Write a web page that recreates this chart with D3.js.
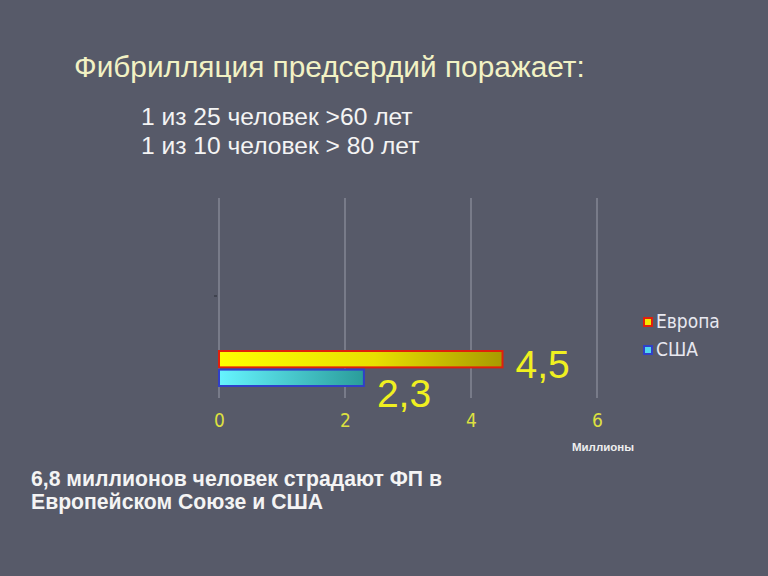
<!DOCTYPE html>
<html><head><meta charset="utf-8">
<script src="https://cdn.jsdelivr.net/npm/d3@7"></script>
<style>html,body{margin:0;padding:0;background:#575a69;}svg{display:block;}</style>
</head><body>
<script>
const series = ["Европа", "США"];
const values = [4.5, 2.3];
const valueLabels = ["4,5", "2,3"];
const xTicks = [0, 2, 4, 6];
const titleText = "Фибрилляция предсердий поражает:";
const subLines = ["1 из 25 человек >60 лет", "1 из 10 человек > 80 лет"];
const bottomLines = ["6,8 миллионов человек страдают ФП в", "Европейском Союзе и США"];
const axisTitle = "Миллионы";

const W = 768, H = 576;
const svg = d3.select("body").append("svg").attr("width", W).attr("height", H);
svg.append("rect").attr("width", W).attr("height", H).attr("fill", "#575a69");

const defs = svg.append("defs");
const gradEu = defs.append("linearGradient").attr("id", "gEu");
gradEu.append("stop").attr("offset", "0%").attr("stop-color", "#ffff00");
gradEu.append("stop").attr("offset", "55%").attr("stop-color", "#e8e000");
gradEu.append("stop").attr("offset", "100%").attr("stop-color", "#a89a00");
const gradUs = defs.append("linearGradient").attr("id", "gUs");
gradUs.append("stop").attr("offset", "0%").attr("stop-color", "#66f4ff");
gradUs.append("stop").attr("offset", "100%").attr("stop-color", "#2a9c9a");
const fills = ["url(#gEu)", "url(#gUs)"];
const strokes = ["#e0200c", "#3040c8"];
const swFills = ["#f4e800", "#50d8f0"];

// title texts
svg.append("text").attr("x", 74).attr("y", 77)
  .attr("font-family", "Liberation Sans, Arial, sans-serif").attr("font-size", 29.8)
  .attr("fill", "#f2f2c4").text(titleText);
svg.selectAll("text.sub").data(subLines).join("text").attr("class", "sub")
  .attr("x", 141).attr("y", (d, i) => 125 + i * 29)
  .attr("font-family", "Liberation Sans, Arial, sans-serif").attr("font-size", 24.6)
  .attr("fill", "#f4f4f4").text(d => d);
svg.selectAll("text.bot").data(bottomLines).join("text").attr("class", "bot")
  .attr("x", 31).attr("y", (d, i) => 486 + i * 23)
  .attr("font-family", "Liberation Sans, Arial, sans-serif").attr("font-size", 21.2)
  .attr("font-weight", "bold").attr("fill", "#f4f4f4").text(d => d);

// scales
const x = d3.scaleLinear().domain([0, 6]).range([219, 597]);
const y = d3.scaleBand().domain(series).range([351, 386]).paddingInner(0.12);

// gridlines
svg.selectAll("line.grid").data(xTicks).join("line").attr("class", "grid")
  .attr("x1", d => x(d)).attr("x2", d => x(d)).attr("y1", 198).attr("y2", 398)
  .attr("stroke", "#9a9caa").attr("stroke-width", 1);
// small category tick
svg.append("line").attr("x1", 214).attr("x2", 217).attr("y1", 296).attr("y2", 296)
  .attr("stroke", "#2a2c36").attr("stroke-width", 1);

// x axis tick labels
const xAxis = d3.axisBottom(x).tickValues(xTicks).tickSize(0).tickFormat(d3.format("d"));
const gx = svg.append("g").attr("transform", "translate(0,410)").call(xAxis);
gx.select(".domain").remove();
gx.selectAll("text").attr("font-family", "Liberation Sans Narrow, DejaVu Sans Condensed, sans-serif")
  .attr("font-size", 19).attr("fill", "#dde040");

svg.append("text").attr("x", 603).attr("y", 451).attr("text-anchor", "middle")
  .attr("font-family", "Liberation Sans, Arial, sans-serif").attr("font-size", 11.5)
  .attr("font-weight", "bold").attr("fill", "#eeeeee").text(axisTitle);

// bars
svg.selectAll("rect.bar").data(series).join("rect").attr("class", "bar")
  .attr("x", x(0)).attr("y", d => y(d))
  .attr("width", (d, i) => x(values[i]) - x(0)).attr("height", y.bandwidth())
  .attr("fill", (d, i) => fills[i]).attr("stroke", (d, i) => strokes[i]).attr("stroke-width", 2);

// value labels
const labelPos = [{dx: 13, dy: 378}, {dx: 13, dy: 407}];
svg.selectAll("text.val").data(series).join("text").attr("class", "val")
  .attr("x", (d, i) => x(values[i]) + labelPos[i].dx).attr("y", (d, i) => labelPos[i].dy)
  .attr("font-family", "Liberation Sans, Arial, sans-serif").attr("font-size", 39)
  .attr("fill", "#f0f020").text((d, i) => valueLabels[i]);

// legend
const lg = svg.selectAll("g.leg").data(series).join("g").attr("class", "leg")
  .attr("transform", (d, i) => `translate(643,${317 + i * 28})`);
lg.append("rect").attr("x", 1).attr("y", 1).attr("width", 8).attr("height", 8)
  .attr("fill", (d, i) => swFills[i]).attr("stroke", (d, i) => strokes[i]).attr("stroke-width", 2);
lg.append("text").attr("x", 13).attr("y", 11)
  .attr("font-family", "Liberation Sans Narrow, DejaVu Sans Condensed, sans-serif").attr("font-size", 19)
  .attr("fill", "#e8e8f0").text(d => d);
</script>
</body></html>
